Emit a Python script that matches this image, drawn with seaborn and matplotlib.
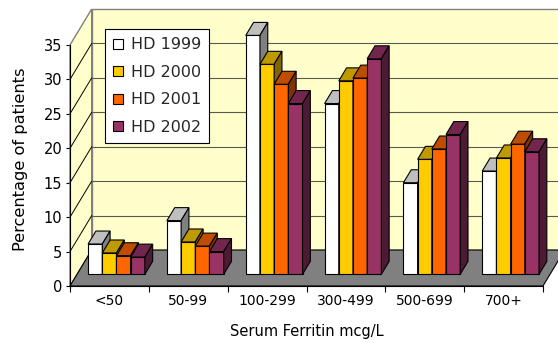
import numpy as np
import pandas as pd
import matplotlib
matplotlib.use("Agg")
import matplotlib.pyplot as plt
from matplotlib.colors import to_rgb
from matplotlib.patches import Polygon, Patch
import seaborn as sns

# Serum ferritin distribution of haemodialysis patients, by year (%)
categories = ["<50", "50-99", "100-299", "300-499", "500-699", "700+"]
years = ["HD 1999", "HD 2000", "HD 2001", "HD 2002"]
hd1999 = [4.4, 7.8, 34.7, 24.8, 13.3, 15.0]
hd2000 = [3.1, 4.7, 30.5, 28.1, 16.7, 16.9]
hd2001 = [2.7, 4.1, 27.6, 28.5, 18.2, 18.9]
hd2002 = [2.5, 3.3, 24.8, 31.3, 20.3, 17.8]
front_colors = ["#FFFFFF", "#FFCC00", "#FF6600", "#993366"]

sns.set_theme(style="ticks")
plt.rcParams["font.family"] = ["DejaVu Sans"]

df = pd.DataFrame({
    "range": categories * len(years),
    "year": np.repeat(years, len(categories)),
    "pct": hd1999 + hd2000 + hd2001 + hd2002,
})

W, H = 558, 343
fig = plt.figure(figsize=(W / 100, H / 100), dpi=100)
fig.patch.set_facecolor("white")
ax = fig.add_axes([70 / W, 57 / H, 473 / W, 241 / H])

sns.barplot(data=df, x="range", y="pct", hue="year", order=categories,
            hue_order=years, palette=front_colors, saturation=1, width=0.72,
            edgecolor="black", linewidth=0.8, legend=False, ax=ax)
bars = [p for p in ax.patches]

X0, X1, YT = -0.5, 5.5, 35
ax.set_xlim(X0, X1)
ax.set_ylim(0, YT)
ax.patch.set_visible(False)

# oblique depth of the chart box, in data units
DX, DY = 0.2753, 5.228
F0, BD = 0.325, 0.36          # front position and depth of the columns

wall = "#FFFFCC"
edge = "#808080"
ax.add_patch(Polygon([(X0 + DX, DY), (X1 + DX, DY), (X1 + DX, YT + DY), (X0 + DX, YT + DY)],
                     closed=True, fc=wall, ec=edge, lw=1, clip_on=False, zorder=0.5))
ax.add_patch(Polygon([(X0, 0), (X0 + DX, DY), (X0 + DX, YT + DY), (X0, YT)],
                     closed=True, fc=wall, ec=edge, lw=1, clip_on=False, zorder=0.6))
ax.add_patch(Polygon([(X0, 0), (X1, 0), (X1 + DX, DY), (X0 + DX, DY)],
                     closed=True, fc="#808080", ec="black", lw=0.8, clip_on=False, zorder=0.7))

# gridlines on the back wall and the side wall
for v in range(5, 35, 5):
    ax.plot([X0 + DX, X1 + DX], [v + DY, v + DY], color="#5a5a50", lw=0.8,
            clip_on=False, zorder=0.8, solid_capstyle="butt")
    ax.plot([X0, X0 + DX], [v, v + DY], color="black", lw=0.7,
            clip_on=False, zorder=0.8)

# columns: shift front faces back, then add top and side faces
bars_sorted = sorted(bars, key=lambda r: r.get_x())
for i, r in enumerate(bars_sorted):
    x, w, h = r.get_x() + F0 * DX, r.get_width(), r.get_height()
    y = F0 * DY
    r.set_x(x)
    r.set_y(y)
    z = 2 + i * 0.04
    r.set_zorder(z)
    r.set_clip_on(False)
    base = np.array(to_rgb(r.get_facecolor()[:3]))
    ddx, ddy = BD * DX, BD * DY
    top = Polygon([(x, y + h), (x + w, y + h), (x + w + ddx, y + h + ddy), (x + ddx, y + h + ddy)],
                  closed=True, fc=base * 0.75, ec="black", lw=0.8, clip_on=False, zorder=z + 0.01)
    side = Polygon([(x + w, y), (x + w + ddx, y + ddy), (x + w + ddx, y + h + ddy), (x + w, y + h)],
                   closed=True, fc=base * 0.5, ec="black", lw=0.8, clip_on=False, zorder=z + 0.01)
    ax.add_patch(top)
    ax.add_patch(side)

# axes, ticks and labels
for s in ("top", "right"):
    ax.spines[s].set_visible(False)
for s in ("left", "bottom"):
    ax.spines[s].set_color("black")
    ax.spines[s].set_linewidth(0.8)
    ax.spines[s].set_zorder(1.5)

ax.set_xticks(np.arange(-0.5, 6.0, 1.0))
ax.set_xticklabels([])
ax.set_xticks(range(len(categories)), minor=True)
ax.set_xticklabels(categories, minor=True)
ax.tick_params(axis="x", which="major", length=4, width=0.8, color="black", direction="out")
ax.tick_params(axis="x", which="minor", length=0, pad=6, labelsize=10, labelcolor="black")
ax.set_yticks(range(0, 36, 5))
ax.tick_params(axis="y", length=3, width=0.8, color="black", pad=2.5, labelsize=10.5,
               labelcolor="black")

ax.set_xlabel("Serum Ferritin mcg/L", fontsize=10.5, color="black", va="center")
ax.xaxis.set_label_coords(0.5, -0.187)
ax.set_ylabel("Percentage of patients", fontsize=11.7, color="black", va="center")
ax.yaxis.set_label_coords(-0.105, 0.525)

handles = [Patch(fc=c, ec="black", lw=0.8) for c in front_colors]
leg = ax.legend(handles, years, loc="upper left", bbox_to_anchor=(105 / W, 1 - 29.3 / H),
                bbox_transform=fig.transFigure, borderaxespad=0, fontsize=11.5,
                frameon=True, fancybox=False, framealpha=1, edgecolor="black",
                handlelength=0.6, handleheight=0.6, handletextpad=0.5,
                labelspacing=0.78, borderpad=0.5)
leg.get_frame().set_linewidth(0.8)
leg.set_zorder(10)

fig.savefig("out.png", dpi=100)
